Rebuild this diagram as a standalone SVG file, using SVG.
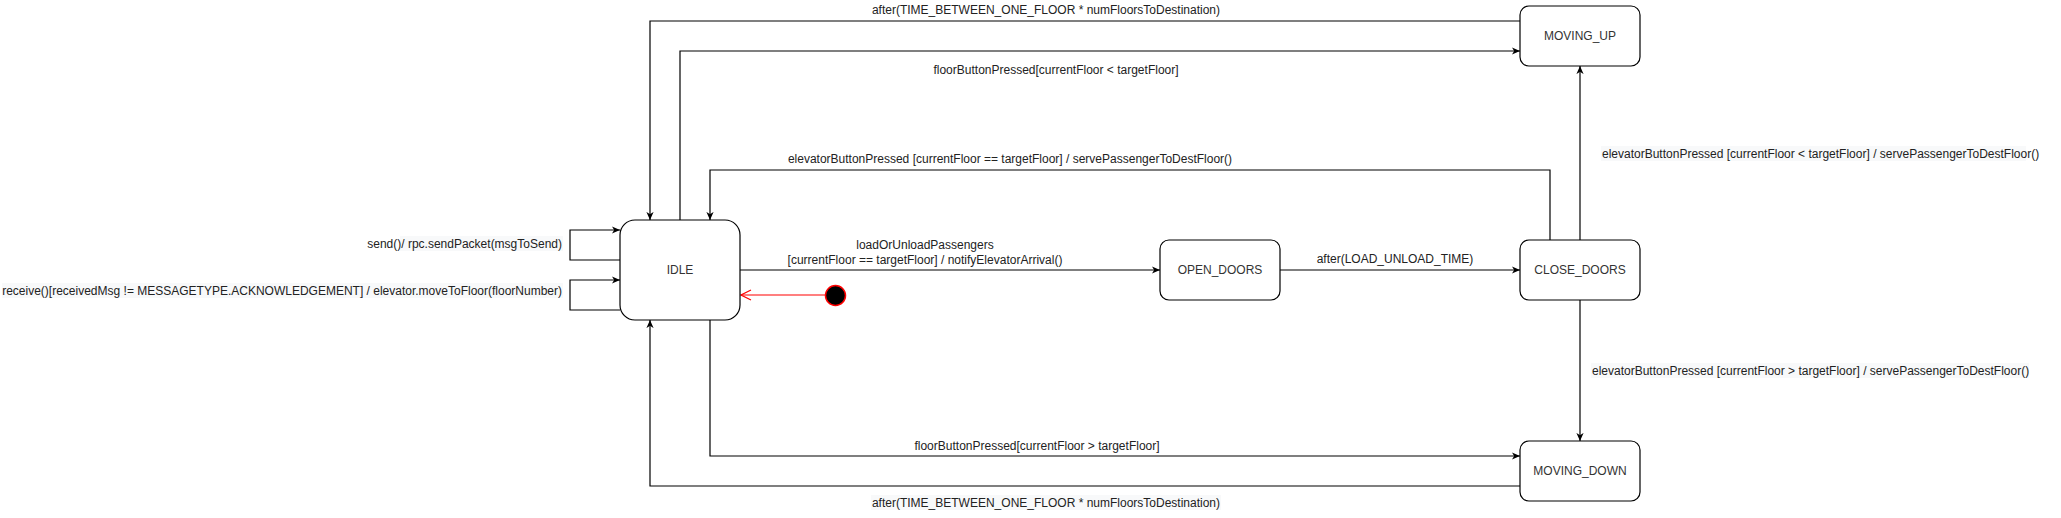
<svg xmlns="http://www.w3.org/2000/svg" width="2061" height="518" viewBox="0 0 2061 518">
<style>
.node{fill:#fff;stroke:#000;stroke-width:1.2}
.nt{font-family:"Liberation Sans",Arial,sans-serif;font-size:12px;fill:#333;text-anchor:middle}
.lbl{font-family:"Liberation Sans",Arial,sans-serif;font-size:12px;fill:#222}
.mid{text-anchor:middle}
.end{text-anchor:end}
.edge{fill:none;stroke:#000;stroke-width:1.2;marker-end:url(#arr)}
.lbg{fill:#f8f9fa}
</style>
<defs>
<marker id="arr" viewBox="0 0 10 10" refX="9" refY="5" markerWidth="9" markerHeight="9" markerUnits="userSpaceOnUse" orient="auto">
<path d="M0,1 L9,5 L0,9 L2.5,5 Z" fill="#000" stroke="none"/>
</marker>
<marker id="open" viewBox="0 0 12 12" refX="11" refY="6" markerWidth="12" markerHeight="12" markerUnits="userSpaceOnUse" orient="auto">
<path d="M1,1 L11,6 L1,11" fill="none" stroke="#ff0000" stroke-width="1.2"/>
</marker>
</defs>
<rect x="0" y="0" width="2061" height="518" fill="#fff"/>

<g id="connectors">
<path class="edge" d="M1520,21 H650 V220"/>
<path class="edge" d="M680,220 V51 H1520"/>
<path class="edge" d="M1550,240 V170 H710 V220"/>
<path class="edge" d="M1580,240 V66"/>
<path class="edge" d="M1580,300 V441"/>
<path class="edge" d="M710,320 V456 H1520"/>
<path class="edge" d="M1520,486 H650 V320"/>
<path class="edge" d="M740,270 H1160"/>
<path class="edge" d="M1280,270 H1520"/>
<path class="edge" d="M620,260 H570 V230 H620"/>
<path class="edge" d="M620,310 H570 V280 H620"/>
<path d="M825,295 H741" fill="none" stroke="#ff0000" stroke-width="1.2" marker-end="url(#open)"/>

<text class="lbl mid" x="1046" y="13.5">after(TIME_BETWEEN_ONE_FLOOR * numFloorsToDestination)</text>
<text class="lbl mid" x="1056" y="74">floorButtonPressed[currentFloor &lt; targetFloor]</text>
<text class="lbl mid" x="1010" y="163">elevatorButtonPressed [currentFloor == targetFloor] / servePassengerToDestFloor()</text>
<text class="lbl mid" x="925" y="249">loadOrUnloadPassengers</text>
<text class="lbl mid" x="925" y="264">[currentFloor == targetFloor] / notifyElevatorArrival()</text>
<text class="lbl mid" x="1395" y="263">after(LOAD_UNLOAD_TIME)</text>
<rect class="lbg" x="1601" y="146" width="425" height="15"/>
<text class="lbl" x="1602" y="158">elevatorButtonPressed [currentFloor &lt; targetFloor] / servePassengerToDestFloor()</text>
<rect class="lbg" x="1591" y="363" width="438" height="15"/>
<text class="lbl" x="1592" y="375">elevatorButtonPressed [currentFloor &gt; targetFloor] / servePassengerToDestFloor()</text>
<text class="lbl mid" x="1037" y="450">floorButtonPressed[currentFloor &gt; targetFloor]</text>
<rect class="lbg" x="871" y="495" width="350" height="15"/>
<text class="lbl mid" x="1046" y="507">after(TIME_BETWEEN_ONE_FLOOR * numFloorsToDestination)</text>
<rect class="lbg" x="400" y="236" width="163" height="15"/>
<text class="lbl end" x="562" y="247.5">send()/ rpc.sendPacket(msgToSend)</text>
<rect class="lbg" x="2" y="283" width="561" height="15"/>
<text class="lbl end" x="562" y="295">receive()[receivedMsg != MESSAGETYPE.ACKNOWLEDGEMENT] / elevator.moveToFloor(floorNumber)</text>
</g>

<g id="initial">
<circle cx="835.5" cy="295.5" r="10" fill="#000" stroke="#ff0000" stroke-width="1.5"/>
</g>
<g id="IDLE">
<rect class="node" x="620" y="220" width="120" height="100" rx="15" ry="15"/>
<text class="nt" x="680" y="274">IDLE</text>
</g>
<g id="OPEN_DOORS">
<rect class="node" x="1160" y="240" width="120" height="60" rx="9" ry="9"/>
<text class="nt" x="1220" y="274">OPEN_DOORS</text>
</g>
<g id="CLOSE_DOORS">
<rect class="node" x="1520" y="240" width="120" height="60" rx="9" ry="9"/>
<text class="nt" x="1580" y="274">CLOSE_DOORS</text>
</g>
<g id="MOVING_UP">
<rect class="node" x="1520" y="6" width="120" height="60" rx="9" ry="9"/>
<text class="nt" x="1580" y="40">MOVING_UP</text>
</g>
<g id="MOVING_DOWN">
<rect class="node" x="1520" y="441" width="120" height="60" rx="9" ry="9"/>
<text class="nt" x="1580" y="475">MOVING_DOWN</text>
</g>
</svg>
